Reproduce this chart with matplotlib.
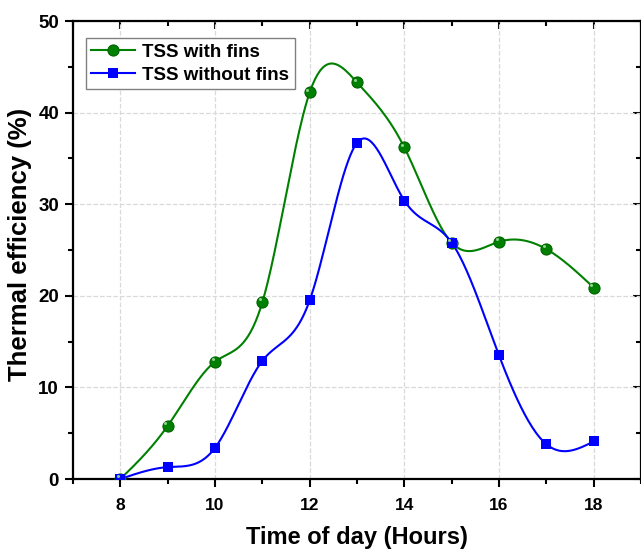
import numpy as np
import matplotlib
matplotlib.use('Agg')
import matplotlib.pyplot as plt
from matplotlib.ticker import MultipleLocator

plt.rcParams['font.family'] = ['Liberation Sans', 'DejaVu Sans']
plt.rcParams['font.weight'] = 'bold'

hours = [8, 9, 10, 11, 12, 13, 14, 15, 16, 17, 18]
with_fins = [0.0, 5.8, 12.8, 19.3, 42.2, 43.3, 36.2, 25.8, 25.9, 25.1, 20.9]
without_fins = [0.0, 1.3, 3.4, 12.9, 19.5, 36.7, 30.4, 25.8, 13.5, 3.8, 4.1]


def natural_spline(x, y, n=400):
    # natural cubic spline, plain numpy
    x = np.asarray(x, float)
    y = np.asarray(y, float)
    k = len(x)
    h = np.diff(x)
    A = np.zeros((k, k))
    b = np.zeros(k)
    A[0, 0] = A[-1, -1] = 1
    for i in range(1, k - 1):
        A[i, i - 1] = h[i - 1]
        A[i, i] = 2 * (h[i - 1] + h[i])
        A[i, i + 1] = h[i]
        b[i] = 6 * ((y[i + 1] - y[i]) / h[i] - (y[i] - y[i - 1]) / h[i - 1])
    M = np.linalg.solve(A, b)
    xs = np.linspace(x[0], x[-1], n)
    idx = np.clip(np.searchsorted(x, xs) - 1, 0, k - 2)
    x0, x1 = x[idx], x[idx + 1]
    hh = x1 - x0
    t0 = x1 - xs
    t1 = xs - x0
    ys = (M[idx] * t0 ** 3 + M[idx + 1] * t1 ** 3) / (6 * hh) \
        + (y[idx] / hh - M[idx] * hh / 6) * t0 \
        + (y[idx + 1] / hh - M[idx + 1] * hh / 6) * t1
    return xs, ys


fig = plt.figure(figsize=(6.41, 5.53), dpi=100)
ax = fig.add_axes([0.1139, 0.1338, 0.8861, 0.8282])

green = '#008000'
blue = '#0000FF'

xs, ys = natural_spline(hours, with_fins)
ax.plot(xs, ys, color=green, lw=1.5, zorder=3)
ax.plot(hours, with_fins, 'o', color=green, ms=8, mec='#006400', mew=0.8, zorder=4)
ax.plot(np.array(hours) - 0.05, np.array(with_fins) + 0.3, 'o', color='#8fd18f',
        ms=2.2, mew=0, zorder=5)

xs, ys = natural_spline(hours, without_fins)
ax.plot(xs, ys, color=blue, lw=1.5, zorder=3)
ax.plot(hours, without_fins, 's', color=blue, ms=7.5, mew=0, zorder=4)

h1, = ax.plot([], [], '-o', color=green, ms=8, mec='#006400', mew=0.8, lw=1.5)
h2, = ax.plot([], [], '-s', color=blue, ms=7.5, mew=0, lw=1.5)
leg = ax.legend([h1, h2], ['TSS with fins', 'TSS without fins'], loc='upper left',
                bbox_to_anchor=(0.006, 0.983), fancybox=False, framealpha=1,
                edgecolor='#808080', fontsize=13.5, handlelength=2.3,
                borderpad=0.3, labelspacing=0.3, handletextpad=0.4)
leg.get_frame().set_linewidth(1.0)

ax.set_xlim(7, 19)
ax.set_ylim(0, 50)
ax.xaxis.set_major_locator(MultipleLocator(2))
ax.xaxis.set_minor_locator(MultipleLocator(1))
ax.yaxis.set_major_locator(MultipleLocator(10))
ax.yaxis.set_minor_locator(MultipleLocator(5))
ax.set_xticks([8, 10, 12, 14, 16, 18])

ax.grid(True, which='major', ls='--', color='#d9d9d9', lw=0.9)
ax.set_axisbelow(True)

for s in ax.spines.values():
    s.set_linewidth(1.6)
ax.tick_params(which='both', width=1.5)
ax.tick_params(which='major', length=6)
ax.tick_params(which='minor', length=3.5)
ax.tick_params(axis='x', labelsize=12.5, pad=8)
ax.tick_params(axis='y', labelsize=13.5, pad=4)

secx = ax.secondary_xaxis('top')
secx.set_xticks([8, 10, 12, 14, 16, 18])
secx.xaxis.set_minor_locator(MultipleLocator(1))
secx.tick_params(which='both', direction='in', labeltop=False, width=1.5)
secx.tick_params(which='major', length=6)
secx.tick_params(which='minor', length=3.5)
secx.spines['top'].set_visible(False)

secy = ax.secondary_yaxis('right')
secy.yaxis.set_major_locator(MultipleLocator(10))
secy.yaxis.set_minor_locator(MultipleLocator(5))
secy.tick_params(which='both', direction='in', labelright=False, width=1.5)
secy.tick_params(which='major', length=6)
secy.tick_params(which='minor', length=3.5)
secy.spines['right'].set_visible(False)

for lab in ax.get_xticklabels() + ax.get_yticklabels():
    lab.set_fontweight('bold')

ax.set_xlabel('Time of day (Hours)', fontsize=17, fontweight='bold', labelpad=9)
ax.set_ylabel('Thermal efficiency (%)', fontsize=18.5, fontweight='bold')
ax.yaxis.set_label_coords(-0.073, 0.512)

fig.savefig('out.png', dpi=100)
